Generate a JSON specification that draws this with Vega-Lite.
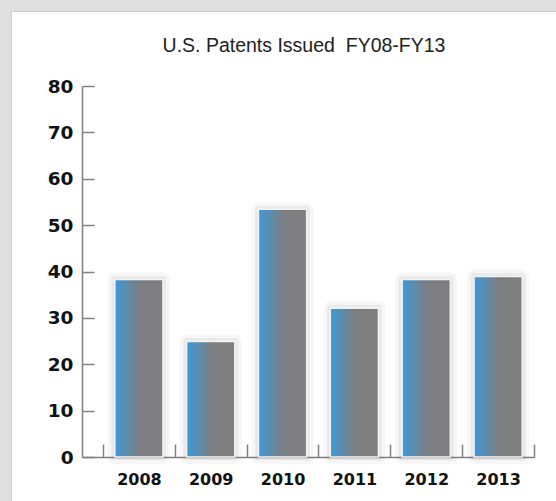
{
  "$schema": "https://vega.github.io/schema/vega-lite/v6.json",
  "width": 550,
  "height": 495,
  "autosize": {"type": "none"},
  "padding": {"left": 11, "top": 11, "right": 0, "bottom": 0},
  "background": "#e0e0e0",
  "config": {
    "view": {"fill": "white", "stroke": "#cfcfcf", "strokeWidth": 1}
  },
  "title": {
    "text": "U.S. Patents Issued\u00a0 FY08-FY13",
    "font": "Liberation Sans",
    "fontSize": 19.5,
    "fontWeight": "normal",
    "color": "#222222",
    "anchor": "middle",
    "frame": "group",
    "orient": "top",
    "offset": 0,
    "baseline": "alphabetic",
    "dx": 18,
    "dy": 60
  },
  "data": {
    "values": [
      {"year": "2008", "patents": 38.3},
      {"year": "2009", "patents": 24.9},
      {"year": "2010", "patents": 53.4},
      {"year": "2011", "patents": 32.1},
      {"year": "2012", "patents": 38.3},
      {"year": "2013", "patents": 38.9}
    ]
  },
  "encoding": {
    "x": {
      "field": "year",
      "type": "nominal",
      "sort": null,
      "scale": {"range": [71, 523], "paddingInner": 0, "paddingOuter": 0.146, "align": 1},
      "axis": {
        "title": null,
        "orient": "bottom",
        "offset": -49,
        "tickBand": "extent",
        "tickSize": -13,
        "tickColor": "#808080",
        "tickWidth": 1.5,
        "domainColor": "#808080",
        "domainWidth": 1.5,
        "labelAngle": 0,
        "labelFont": "DejaVu Sans",
        "labelFontWeight": "bold",
        "labelFontSize": 16,
        "labelColor": "#111111",
        "labelPadding": 27
      }
    },
    "y": {
      "field": "patents",
      "type": "quantitative",
      "scale": {"domain": [0, 80], "range": [446, 75], "nice": false},
      "axis": {
        "title": null,
        "orient": "left",
        "offset": -71,
        "values": [0, 10, 20, 30, 40, 50, 60, 70, 80],
        "grid": false,
        "tickSize": -12,
        "tickColor": "#808080",
        "tickWidth": 1.5,
        "domainColor": "#808080",
        "domainWidth": 1.5,
        "labelFont": "DejaVu Sans",
        "labelFontWeight": "bold",
        "labelFontSize": 18.5,
        "labelColor": "#111111",
        "labelPadding": 21
      }
    }
  },
  "layer": [
    {
      "mark": {"type": "bar", "width": {"band": 0.67}, "fill": "#000000", "fillOpacity": 0.04, "stroke": "#000000", "strokeOpacity": 0.03, "strokeWidth": 14, "strokeJoin": "round"}
    },
    {
      "mark": {"type": "bar", "width": {"band": 0.67}, "fill": "#000000", "fillOpacity": 0.0, "stroke": "#000000", "strokeOpacity": 0.05, "strokeWidth": 7, "strokeJoin": "round"}
    },
    {
      "mark": {
        "type": "bar",
        "width": {"band": 0.67},
        "fill": {
          "gradient": "linear",
          "x1": 0, "y1": 0, "x2": 1, "y2": 0,
          "stops": [
            {"offset": 0, "color": "#3d9ad8"},
            {"offset": 0.5, "color": "#7b7e82"},
            {"offset": 1, "color": "#7f7f7f"}
          ]
        },
        "stroke": "#f2f2f2",
        "strokeWidth": 1.5
      }
    }
  ]
}
